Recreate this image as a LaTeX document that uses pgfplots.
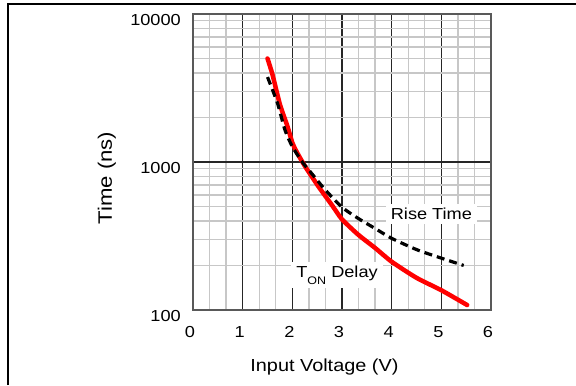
\documentclass[border=0pt]{standalone}
\usepackage{fontspec}
\setmainfont{Liberation Sans}[FakeStretch=1.14]
\usepackage{pgfplots}
\pgfplotsset{compat=1.18}
\begin{document}
\fontsize{16}{19}\selectfont
\begin{tikzpicture}[x=1bp,y=1bp]
\useasboundingbox (0,0) rectangle (576,385);
\draw[line width=2bp] (8.3,0) -- (8.3,381) -- (576,381);
\begin{axis}[
  at={(193bp,75bp)}, anchor=south west,
  width=298bp, height=296bp, scale only axis,
  xmin=0, xmax=6, ymode=log, ymin=100, ymax=10000,
  xtick={0,1,2,3,4,5,6},
  ytick={100,1000,10000},
  yticklabels={100,1000,10000},
  minor x tick num=2,
  grid=both,
  major grid style={black!85, line width=1.2bp},
  minor grid style={black!22, line width=1.4bp},
  major tick length=0pt, minor tick length=0pt,
  axis line style={black!65, line width=1.6bp},
  /pgf/number format/assume math mode=true,
  tick label style={font=\fontsize{16}{19}\selectfont, inner sep=0pt},
  xticklabel style={anchor=north, yshift=-16bp, xshift=-3bp},
  yticklabel style={anchor=east, xshift=-12bp, yshift=-6bp},
  xlabel={Input Voltage (V)},
  ylabel={Time (ns)},
  xlabel style={at={(axis description cs:0.441,-0.1926)}, anchor=center, inner sep=0pt, font=\fontsize{17.5}{20}\selectfont},
  ylabel style={at={(axis description cs:-0.289,0.446)}, anchor=center, rotate=0, inner sep=0pt, font=\fontsize{19.5}{22}\selectfont},
  clip=false,
]
\addplot[red, line width=4.5bp, line cap=round, smooth, tension=0.4] coordinates {
 (1.5,5000) (1.6,3900) (1.75,2450) (1.9,1750) (2.0,1350) (2.1,1150) (2.26,930)
 (2.53,680) (2.8,510) (3.0,410) (3.33,322) (3.67,262) (4.0,212) (4.5,165)
 (5.0,136) (5.52,108)
};
\addplot[black, line width=3.2bp, dash pattern=on 8bp off 5bp, smooth, tension=0.4] coordinates {
 (1.5,3750) (1.7,2500) (1.85,1650) (2.0,1270) (2.2,1000) (2.36,860) (2.66,650)
 (3.0,495) (3.33,415) (3.67,355) (4.0,305) (4.5,256) (5.0,224) (5.45,200)
};
\node[fill=white, inner xsep=5bp, inner ysep=4bp] at (axis cs:4.8,446) {Rise Time};
\node[fill=white, inner xsep=5bp, inner ysep=4bp] at (axis cs:2.9,172) {T\raisebox{-0.4em}{\fontsize{11}{11}\selectfont ON} Delay};
\end{axis}
\end{tikzpicture}
\end{document}
